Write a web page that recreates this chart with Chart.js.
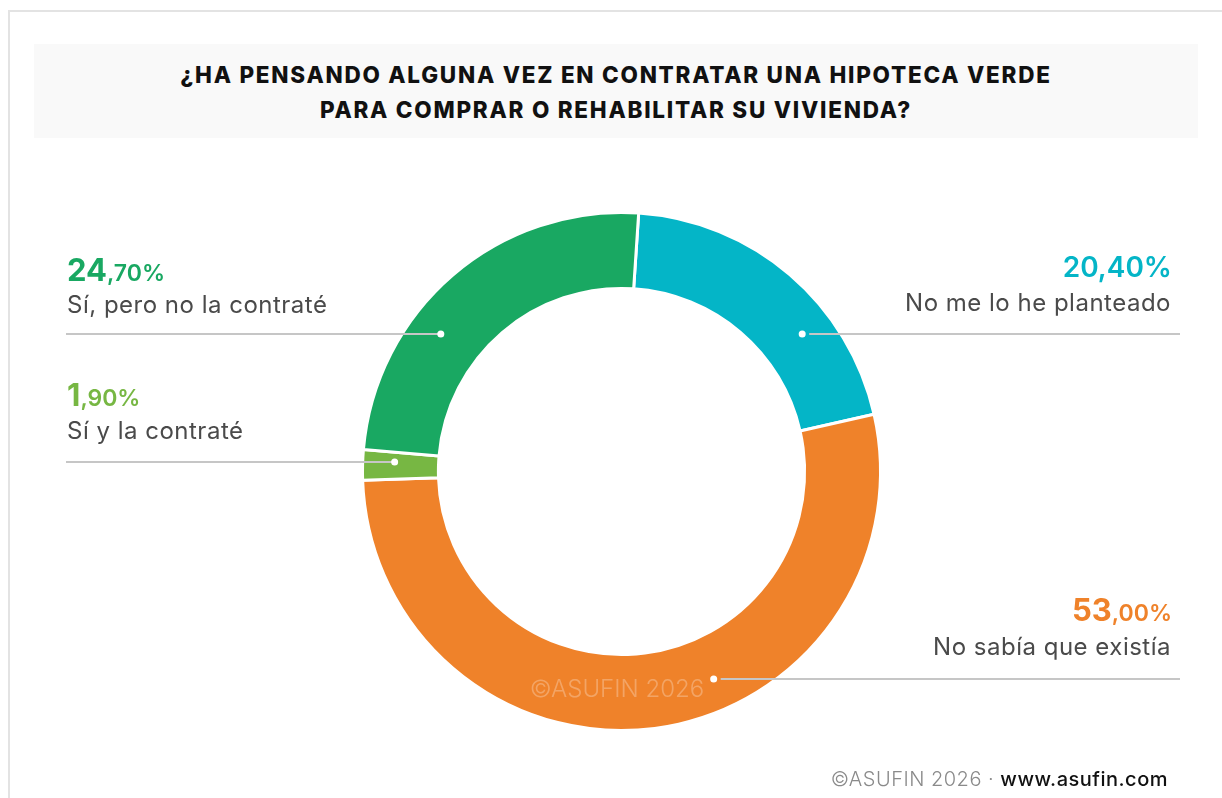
<!DOCTYPE html>
<html lang="es">
<head>
<meta charset="utf-8">
<title>Hipoteca verde</title>
<script src="https://cdn.jsdelivr.net/npm/chart.js@4.4.1/dist/chart.umd.min.js"></script>
<style>
    html, body { margin: 0; padding: 0; background: #fff; }
    body { width: 1222px; height: 798px; position: relative; overflow: hidden; font-family: Inter, "Open Sans", sans-serif; }
    #frame { position: absolute; left: 8px; top: 10px; width: 1214px; height: 788px; border-top: 2px solid #e3e3e3; border-left: 2px solid #e3e3e3; box-sizing: border-box; }
    #titleBox { position: absolute; left: 34px; top: 44px; width: 1164px; height: 94px; background: #f9f9f9; box-sizing: border-box; padding-top: 13px; text-align: center; }
    #titleBox div { font-weight: 800; font-size: 22.5px; line-height: 35px; color: #111; letter-spacing: 1.75px; }
    #chart { position: absolute; left: 0; top: 0; }
    .pct { position: absolute; font-size: 31px; line-height: 31px; font-weight: 700; white-space: nowrap; }
    .pct .dec { font-size: 23px; font-weight: 600; }
    .desc { position: absolute; font-size: 24px; line-height: 24px; color: #4a4a4a; white-space: nowrap; letter-spacing: 0.5px; }
    #watermark { position: absolute; left: 467px; width: 300px; top: 677px; text-align: center; font-size: 24px; line-height: 24px; font-weight: 300; color: rgba(255,255,255,0.28); }
    #footer { position: absolute; right: 54px; top: 769px; font-size: 20px; line-height: 20px; white-space: nowrap; letter-spacing: 0.5px; }
    #footer .c { color: #8a8a8a; font-weight: 300; }
    #footer .w { color: #111; font-weight: 500; }
</style>
</head>
<body>
<div id="frame"></div>
<div id="titleBox">
    <div>¿HA PENSANDO ALGUNA VEZ EN CONTRATAR UNA HIPOTECA VERDE</div>
    <div>PARA COMPRAR O REHABILITAR SU VIVIENDA?</div>
</div>
<canvas id="chart" width="1222" height="798"></canvas>
<div id="watermark">©ASUFIN 2026</div>
<div id="footer"><span class="c">©ASUFIN 2026 · </span><span class="w">www.asufin.com</span></div>

<script>
// Survey answers, clockwise from the top
const categories = ['No me lo he planteado', 'No sabía que existía', 'Sí y la contraté', 'Sí, pero no la contraté'];
const values = [20.4, 53.0, 1.9, 24.7];

const sliceColors = ['#04B5C7', '#EF822A', '#77B743', '#19A862'];

// where each callout sits (label block + leader line height)
const callouts = [
    { side: 'right', pctTop: 250, descTop: 291, lineY: 334, smallDec: false },
    { side: 'right', pctTop: 594, descTop: 635, lineY: 679, smallDec: true },
    { side: 'left',  pctTop: 379, descTop: 419, lineY: 462, smallDec: true },
    { side: 'left',  pctTop: 254, descTop: 293, lineY: 334, smallDec: true }
];
const LEFT_X = 67, RIGHT_EDGE = 1172;

/**
 * Percent text like "24,70%"
 */
function fmtParts(v) {
    const s = v.toFixed(2).replace('.', ',');
    const [a, b] = s.split(',');
    return { whole: a, dec: ',' + b + '%' };
}

// labels as real text
categories.forEach((cat, i) => {
    const c = callouts[i];
    const p = fmtParts(values[i]);

    const pct = document.createElement('div');
    pct.className = 'pct';
    pct.style.color = sliceColors[i];
    pct.style.top = c.pctTop + 'px';
    if (c.smallDec) {
        pct.innerHTML = `<span>${p.whole}</span><span class="dec">${p.dec}</span>`;
    } else {
        pct.innerHTML = `<span style="font-size:28px;font-weight:600">${p.whole}${p.dec}</span>`;
    }

    const desc = document.createElement('div');
    desc.className = 'desc';
    desc.style.top = c.descTop + 'px';
    desc.textContent = cat;

    if (c.side === 'left') {
        pct.style.left = LEFT_X + 'px';
        desc.style.left = LEFT_X + 'px';
    } else {
        pct.style.right = (1222 - RIGHT_EDGE) + 'px';
        desc.style.right = (1222 - RIGHT_EDGE + 1) + 'px';
    }
    document.body.appendChild(pct);
    document.body.appendChild(desc);
});

// leader lines + white dots, placed on the ring through the arc geometry
const leaderPlugin = {
    id: 'leaders',
    afterDatasetsDraw(chart) {
        const ctx = chart.ctx;
        const arcs = chart.getDatasetMeta(0).data;
        arcs.forEach((arc, i) => {
            const c = callouts[i];
            const { x, y, innerRadius, outerRadius } = arc.getProps(['x', 'y', 'innerRadius', 'outerRadius'], true);
            const rm = (innerRadius + outerRadius) / 2 + 6;
            const dy = c.lineY - y;
            const dx = Math.sqrt(Math.max(rm * rm - dy * dy, 0));
            const dotX = c.side === 'left' ? x - dx : x + dx;

            ctx.save();
            ctx.strokeStyle = '#c6c6c6';
            ctx.lineWidth = 2;
            ctx.beginPath();
            if (c.side === 'left') {
                ctx.moveTo(LEFT_X - 1, c.lineY);
                ctx.lineTo(dotX, c.lineY);
            } else {
                ctx.moveTo(dotX + 7, c.lineY);
                ctx.lineTo(RIGHT_EDGE + 8, c.lineY);
            }
            ctx.stroke();
            ctx.fillStyle = '#fff';
            ctx.beginPath();
            ctx.arc(dotX, c.lineY, 3.5, 0, Math.PI * 2);
            ctx.fill();
            ctx.restore();
        });
    }
};

const ctx = document.getElementById('chart').getContext('2d');
new Chart(ctx, {
    type: 'doughnut',
    data: {
        labels: categories,
        datasets: [{
            data: values,
            backgroundColor: sliceColors,
            borderColor: '#ffffff',
            borderWidth: 3,
            hoverOffset: 0
        }]
    },
    options: {
        responsive: false,
        animation: false,
        events: [],
        rotation: 3.8,
        radius: 259,
        cutout: '70.7%',
        layout: { padding: { left: 21, right: 0, top: 145, bottom: 0 } },
        plugins: {
            legend: { display: false },
            tooltip: { enabled: false }
        }
    },
    plugins: [leaderPlugin]
});
</script>
</body>
</html>
